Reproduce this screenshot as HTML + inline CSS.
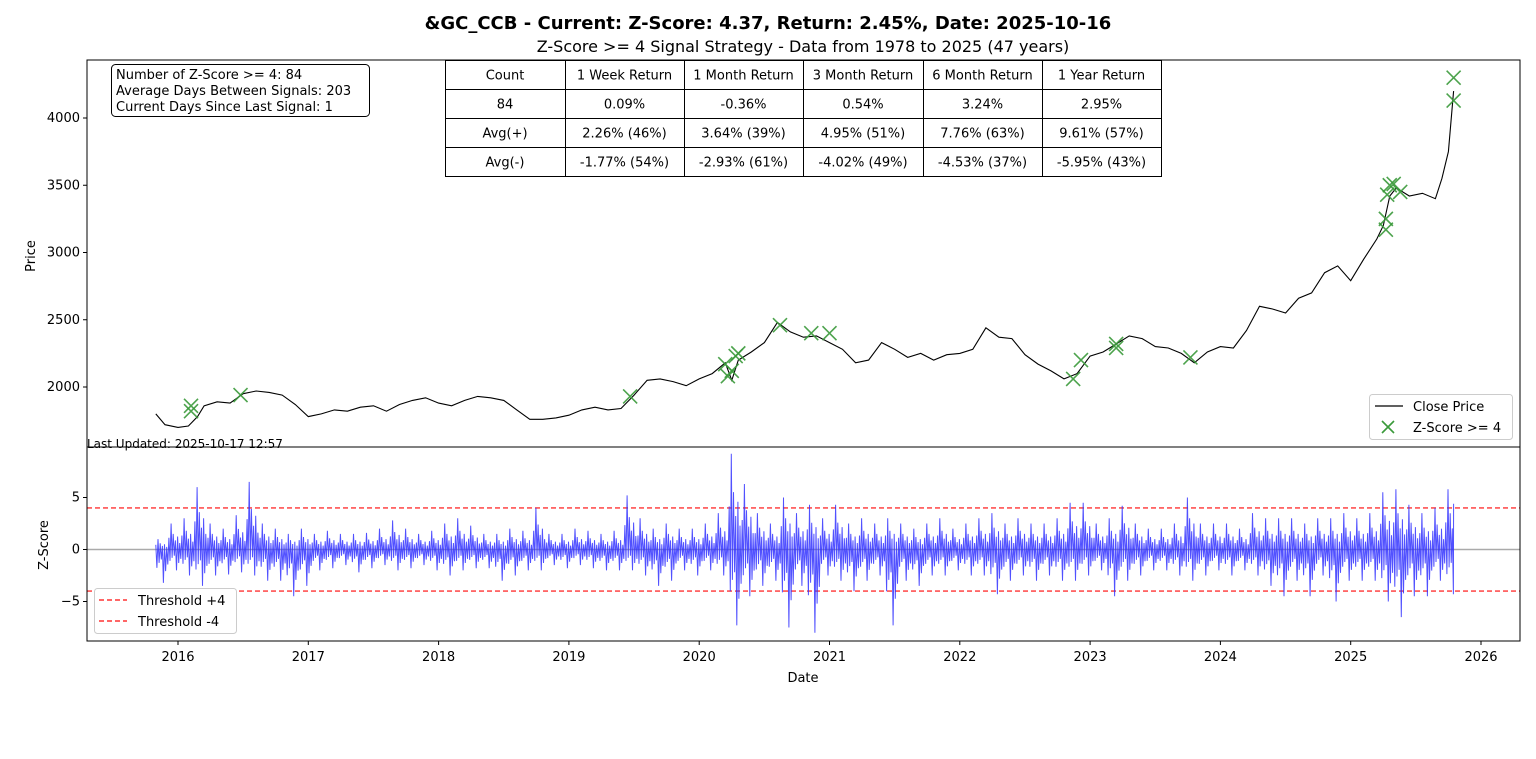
<!DOCTYPE html>
<html><head><meta charset="utf-8"><style>
body{margin:0;background:#fff;font-family:"Liberation Sans","DejaVu Sans",sans-serif}
svg text{font-family:"DejaVu Sans","Liberation Sans",sans-serif}
</style></head><body>
<svg id="c" width="1536" height="754" xmlns="http://www.w3.org/2000/svg">
<rect width="1536" height="754" fill="#fff"/>
<text x="768" y="29" text-anchor="middle" font-size="18" font-weight="bold">&amp;GC_CCB - Current: Z-Score: 4.37, Return: 2.45%, Date: 2025-10-16</text>
<text x="803" y="52" text-anchor="middle" font-size="16">Z-Score &gt;= 4 Signal Strategy - Data from 1978 to 2025 (47 years)</text>
<g id="topPanel"></g>
<g id="botPanel"></g>
</svg>
<script>
const priceDates=[2015.83,2015.9,2016.0,2016.08,2016.15,2016.2,2016.3,2016.4,2016.5,2016.6,2016.7,2016.8,2016.9,2017.0,2017.1,2017.2,2017.3,2017.4,2017.5,2017.6,2017.7,2017.8,2017.9,2018.0,2018.1,2018.2,2018.3,2018.4,2018.5,2018.6,2018.7,2018.8,2018.9,2019.0,2019.1,2019.2,2019.3,2019.4,2019.5,2019.6,2019.7,2019.8,2019.9,2020.0,2020.1,2020.2,2020.25,2020.3,2020.4,2020.5,2020.6,2020.7,2020.8,2020.9,2021.0,2021.1,2021.2,2021.3,2021.4,2021.5,2021.6,2021.7,2021.8,2021.9,2022.0,2022.1,2022.2,2022.3,2022.4,2022.5,2022.6,2022.7,2022.8,2022.9,2023.0,2023.1,2023.2,2023.3,2023.4,2023.5,2023.6,2023.7,2023.8,2023.9,2024.0,2024.1,2024.2,2024.3,2024.4,2024.5,2024.6,2024.7,2024.8,2024.9,2025.0,2025.1,2025.2,2025.25,2025.3,2025.35,2025.45,2025.55,2025.65,2025.7,2025.75,2025.79];
const priceValues=[1800,1720,1700,1710,1780,1860,1890,1880,1950,1970,1960,1940,1870,1780,1800,1830,1820,1850,1860,1820,1870,1900,1920,1880,1860,1900,1930,1920,1900,1830,1760,1760,1770,1790,1830,1850,1830,1840,1940,2050,2060,2040,2010,2060,2100,2180,2050,2200,2260,2330,2480,2410,2370,2380,2330,2280,2180,2200,2330,2280,2220,2250,2200,2240,2250,2280,2440,2370,2360,2240,2170,2120,2060,2100,2230,2260,2320,2380,2360,2300,2290,2250,2180,2260,2300,2290,2420,2600,2580,2550,2660,2700,2850,2900,2790,2950,3100,3200,3420,3480,3420,3440,3400,3550,3750,4200];
const signalDates=[2016.1,2016.1,2016.48,2019.47,2020.2,2020.22,2020.25,2020.28,2020.3,2020.62,2020.86,2021.0,2022.87,2022.93,2023.2,2023.2,2023.77,2025.27,2025.27,2025.28,2025.3,2025.33,2025.38,2025.79,2025.79];
const signalPrices=[1820,1860,1940,1930,2170,2080,2120,2230,2250,2460,2400,2400,2060,2200,2290,2320,2220,3250,3170,3430,3500,3510,3450,4300,4130];
const zStart=2015.83, zStep=0.1;
const zHigh=[1.0,2.5,3.0,6.0,2.5,2.0,3.3,6.5,2.5,2.0,1.5,2.0,1.5,1.8,1.5,1.5,1.6,2.0,2.8,2.0,1.5,1.8,2.5,3.0,2.3,1.5,1.5,2.0,1.8,4.0,1.5,1.5,2.0,1.8,1.5,1.8,5.2,3.0,2.0,2.5,2.0,2.0,2.5,3.5,9.2,6.3,3.5,2.5,5.0,3.5,4.3,3.0,4.3,2.5,3.0,2.5,3.0,2.5,2.0,2.5,3.0,2.0,2.5,3.0,3.5,2.5,3.0,2.5,2.5,3.0,4.5,4.5,2.5,3.0,4.2,2.5,2.0,2.0,2.5,5.0,2.5,2.5,2.5,2.0,3.5,3.0,3.0,3.0,2.5,3.0,3.0,3.5,3.0,3.5,5.5,5.8,4.3,3.5,4.0,5.8];
const zLow=[-3.2,-2.0,-2.5,-3.5,-2.5,-2.4,-2.2,-2.5,-3.0,-3.0,-4.5,-3.5,-2.0,-1.8,-1.5,-2.2,-1.8,-1.5,-2.0,-1.8,-1.5,-2.0,-2.5,-2.0,-1.8,-1.8,-3.0,-2.5,-2.0,-2.0,-1.5,-1.8,-1.5,-1.8,-2.0,-2.0,-2.0,-2.5,-3.5,-3.0,-2.0,-2.5,-2.0,-2.5,-7.3,-4.5,-3.5,-3.0,-7.5,-3.5,-8.0,-2.5,-3.0,-4.0,-3.0,-2.5,-7.3,-3.0,-3.5,-2.5,-2.5,-2.0,-2.5,-2.5,-4.3,-3.0,-2.5,-3.0,-2.5,-3.0,-3.0,-2.5,-2.0,-4.5,-3.0,-2.5,-2.0,-2.0,-2.5,-3.0,-2.5,-2.0,-2.5,-2.0,-2.5,-3.5,-4.5,-3.0,-4.5,-2.5,-5.0,-3.0,-3.0,-3.0,-5.0,-6.5,-4.5,-4.5,-3.0,-4.3];
const zLast=4.4, zEnd=2025.79;
const xTicks=[2016,2017,2018,2019,2020,2021,2022,2023,2024,2025,2026];
const priceTicks=[2000,2500,3000,3500,4000];
const zTicks=[5,0,-5];
const tableRows=[["Count","1 Week Return","1 Month Return","3 Month Return","6 Month Return","1 Year Return"],["84","0.09%","-0.36%","0.54%","3.24%","2.95%"],["Avg(+)","2.26% (46%)","3.64% (39%)","4.95% (51%)","7.76% (63%)","9.61% (57%)"],["Avg(-)","-1.77% (54%)","-2.93% (61%)","-4.02% (49%)","-4.53% (37%)","-5.95% (43%)"]];

const NS="http://www.w3.org/2000/svg";
const L=87,R=1520,T1=60,B1=447,T2=447,B2=641;
const xs=d=>178+(d-2016)*130.3;
const yp=p=>387-(p-2000)*0.1345;
const yz=z=>549.5-z*10.4;
function mk(parent,tag,attrs,text){const e=document.createElementNS(NS,tag);for(const k in attrs)e.setAttribute(k,attrs[k]);if(text!==undefined)e.textContent=String(text);parent.appendChild(e);return e;}
const gTop=document.getElementById('topPanel'),gBot=document.getElementById('botPanel');

let pts=priceDates.map((d,i)=>xs(d).toFixed(1)+','+yp(priceValues[i]).toFixed(1)).join(' ');
let pl=mk(gTop,'polyline',{points:pts,fill:'none',stroke:'#000','stroke-width':1.1});


signalDates.forEach((d,i)=>{const x=xs(d),y=yp(signalPrices[i]);
 const g=mk(gTop,'path',{d:`M${x-7},${y-7}L${x+7},${y+7}M${x-7},${y+7}L${x+7},${y-7}`,stroke:'#3a9a3a','stroke-width':1.6,opacity:0.9});
 
 });
mk(gTop,'rect',{x:L,y:T1,width:R-L,height:B1-T1,fill:'none',stroke:'#000','stroke-width':1});
priceTicks.forEach(p=>{const y=yp(p);mk(gTop,'line',{x1:L-4,x2:L,y1:y,y2:y,stroke:'#000'});
 const t=mk(gTop,'text',{x:L-7,y:y+4,'text-anchor':'end','font-size':13},p);
 
 });
const pat=mk(gTop,'text',{x:35,y:256,'text-anchor':'middle','font-size':13,transform:'rotate(-90 35 256)'},'Price');


const ib=mk(gTop,'g',{});


mk(ib,'rect',{x:111.5,y:64.5,width:258,height:52,rx:4,fill:'#fff',stroke:'#000'});
['Number of Z-Score >= 4: 84','Average Days Between Signals: 203','Current Days Since Last Signal: 1'].forEach((s,i)=>mk(ib,'text',{x:116,y:79+i*16,'font-size':13},s));
const cx=[445,565,684,803,923,1042,1161];
const tb=mk(gTop,'g',{});


tableRows.forEach((row,r)=>row.forEach((c,j)=>{const y=60+r*29;
 mk(tb,'rect',{x:cx[j]+0.5,y:y+0.5,width:cx[j+1]-cx[j],height:29,fill:'#fff',stroke:'#000'});
 mk(tb,'text',{x:(cx[j]+cx[j+1])/2,y:y+19.5,'text-anchor':'middle','font-size':13},c);}));
const lg=mk(gTop,'g',{});


mk(lg,'rect',{x:1369.5,y:394.5,width:143,height:45,rx:3,fill:'#fff',stroke:'#ccc'});
mk(lg,'line',{x1:1375,x2:1403,y1:406,y2:406,stroke:'#000','stroke-width':1.2});
mk(lg,'text',{x:1413,y:411,'font-size':13},'Close Price');
mk(lg,'path',{d:'M1382,421L1394,433M1382,433L1394,421',stroke:'#3a9a3a','stroke-width':1.6});
mk(lg,'text',{x:1413,y:432,'font-size':13},'Z-Score >= 4');

mk(gBot,'line',{x1:L,x2:R,y1:yz(0),y2:yz(0),stroke:'#aaa','stroke-width':1.4});
[4,-4].forEach(v=>{const l=mk(gBot,'line',{x1:L,x2:R,y1:yz(v),y2:yz(v),stroke:'#f33','stroke-width':1.4,'stroke-dasharray':'5,3'});
 
 });
const subF=[0.45,-0.55,1,-0.4,0.6,-0.3,0.35,-1,0.5,-0.65,0.25,-0.45];
let zp=[];
zHigh.forEach((h,i)=>{const d=zStart+i*zStep,lo=zLow[i];
 subF.forEach((f,k)=>zp.push([d+zStep*k/subF.length,f>0?h*f:-lo*f]));});
zp=zp.filter(p=>p[0]<zEnd);zp.push([zEnd,zLast]);
const zl=mk(gBot,'polyline',{points:zp.map(p=>xs(p[0]).toFixed(1)+','+yz(p[1]).toFixed(1)).join(' '),fill:'none',stroke:'#3333ff','stroke-opacity':0.85,'stroke-width':1});


mk(gBot,'rect',{x:L,y:T2,width:R-L,height:B2-T2,fill:'none',stroke:'#000'});
zTicks.forEach(z=>{const y=yz(z);mk(gBot,'line',{x1:L-4,x2:L,y1:y,y2:y,stroke:'#000'});
 const t=mk(gBot,'text',{x:L-7,y:y+4,'text-anchor':'end','font-size':13},z===-5?'\u22125':z);
 
 });
xTicks.forEach(d=>{const x=xs(d);mk(gBot,'line',{x1:x,x2:x,y1:B2,y2:B2+4,stroke:'#000'});
 const t=mk(gBot,'text',{x:x,y:B2+20,'text-anchor':'middle','font-size':13},d);
 
 });
const xat=mk(gBot,'text',{x:803,y:682,'text-anchor':'middle','font-size':13},'Date');


const zat=mk(gBot,'text',{x:48,y:545,'text-anchor':'middle','font-size':13,transform:'rotate(-90 48 545)'},'Z-Score');


const bl=mk(gBot,'g',{});


mk(bl,'rect',{x:94.5,y:588.5,width:142,height:45,rx:3,fill:'#fff',stroke:'#ccc'});
mk(bl,'line',{x1:99,x2:127,y1:600,y2:600,stroke:'#f33','stroke-width':1.4,'stroke-dasharray':'5,3'});
mk(bl,'text',{x:138,y:605,'font-size':13},'Threshold +4');
mk(bl,'line',{x1:99,x2:127,y1:621,y2:621,stroke:'#f33','stroke-width':1.4,'stroke-dasharray':'5,3'});
mk(bl,'text',{x:138,y:626,'font-size':13},'Threshold -4');
const lu=mk(document.getElementById('c'),'text',{x:87,y:448,'font-size':12},'Last Updated: 2025-10-17 12:57');


</script>
</body></html>
